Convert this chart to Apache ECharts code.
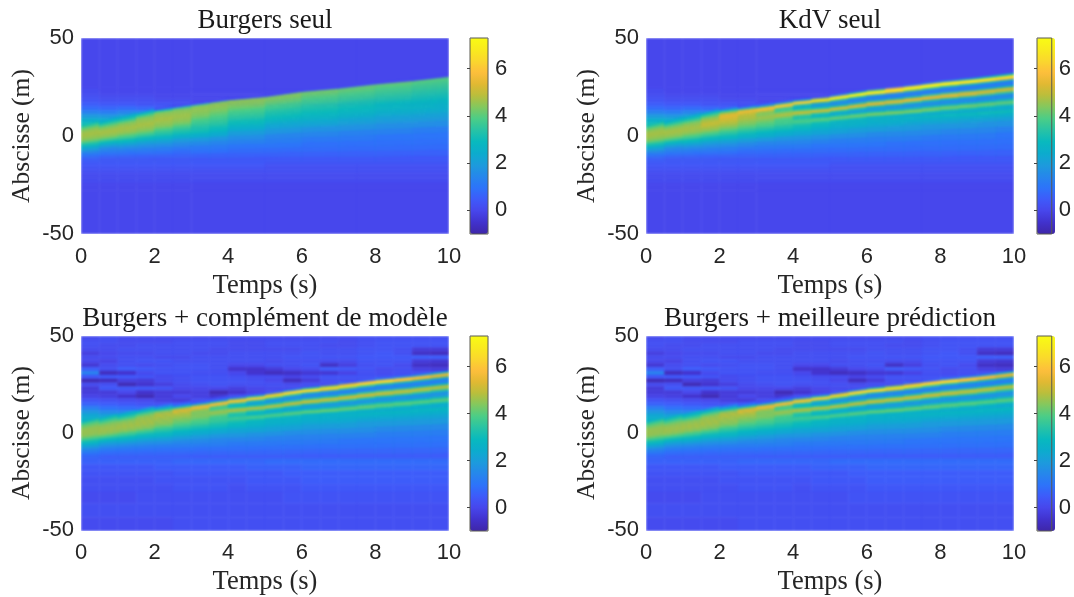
<!DOCTYPE html>
<html><head><meta charset="utf-8">
<style>
html,body{margin:0;padding:0;background:#fff}
#field,#frame{position:absolute;left:0;top:0;width:1074px;height:597px}
#field{filter:blur(1px);clip-path:path("M81 38H449V234H81Z M646 38H1014V234H646Z M81 336H449V531H81Z M646 336H1014V531H646Z")}
</style>
<script src="https://cdn.jsdelivr.net/npm/echarts@6/dist/echarts.min.js"></script>
</head><body><div id="field"></div><div id="frame"></div>
<script>
// Titles and tick labels
const panelTitles = ['Burgers seul', 'KdV seul', 'Burgers + complément de modèle', 'Burgers + meilleure prédiction'];
const xAxisName = 'Temps (s)';
const yAxisName = 'Abscisse (m)';
const colorbarTicks = [0, 2, 4, 6];
const colorMin = -1, colorMax = 7.3;
const parulaStops = ['#3e26a8','#4132cd','#4746eb','#3e5afa','#2d73fa','#2687eb','#1c9bdc','#0cacCd','#08b9be','#28c3a5','#4bcd87','#82c85f','#b9be3c','#e1b932','#fdbe3c','#fad72d','#f9eb1e','#f9fb14'];

// Field values are in tenths. Each inner list is one time column, from high abscissa to low.
// Band rows follow the wave fan: row abscissa u is seen at -13 + (u + 13) * fanStretch(t).
const fanPivot = -13;
const fanTimes = [0,1,2,3,4,5,6,7,8,9,10];
const fanStretch = [0.41,0.51,0.60,0.66,0.72,0.76,0.82,0.86,0.91,0.95,1];
const bandRowEdges = [32,31,30,29,28,27,26,25,24,23,22,21,20,19,18,17,16,15,14,13,12,10,8,5,2,-1,-4,-7,-10,-13];
const fineTimes = [0,0.5,1,1.5,2,2.5,3,3.5,4,4.5,5,5.5,6,6.5,7,7.5,8,8.5,9,9.5,10];
const burgersTimes = [0,0.5,1,1.5,2,2.5,3,3.5,4,5,6,7,8,9,10];
const calmTimes = [0,0.5,1,1.5,2,2.5,3,5,7.5,10];
const calmRowEdges = [50,24,21,19,17,15,13,11,9,7,5,-13,-15,-17,-19,-21,-24,-28,-50];
const rippleRowEdges = [50,48,46,44,42,40,38,36,34,32,30,28,26,24,22,20,18,16,14,12,10,8,-13,-16,-19,-22,-26,-30,-36,-43,-50];

const burgersBand = [
[30,32,35,37,39,41,43,44,45,46,46,47,47,47,47,46,46,45,45,44,41,37,31,24,19,14,10,7,5],
[22,25,27,30,33,36,38,41,43,44,45,46,47,47,47,47,46,45,45,44,40,35,28,21,15,12,9,6,4],
[20,23,27,30,33,36,39,42,44,45,46,46,47,47,47,46,46,45,44,42,39,35,29,22,16,12,9,6,4],
[14,22,29,34,38,41,44,45,45,46,46,47,47,47,46,46,45,44,43,41,38,33,28,21,16,12,9,6,4],
[0,8,28,38,43,45,45,46,46,47,47,46,46,45,45,44,43,41,39,38,35,32,27,21,16,12,9,6,4],
[0,6,34,42,44,45,45,46,46,46,46,45,45,44,43,42,40,38,37,35,33,30,25,19,15,11,8,6,4],
[0,5,38,45,45,45,45,45,44,44,43,42,41,39,38,37,36,35,34,33,32,30,25,19,15,11,9,6,4],
[0,4,42,45,45,45,44,44,43,42,41,40,39,38,37,36,35,34,33,32,30,28,24,18,14,11,9,6,4],
[0,3,44,45,44,44,43,42,41,39,38,37,36,35,34,33,31,30,29,28,26,24,20,16,13,10,8,6,4],
[0,2,43,44,43,42,41,40,38,37,36,34,33,32,31,30,29,28,26,25,23,21,18,14,12,10,8,6,4],
[0,2,42,42,41,40,39,38,37,36,34,33,32,31,30,29,28,27,26,25,23,21,17,14,11,9,8,6,4],
[0,2,41,41,40,39,38,37,36,35,33,32,31,30,29,28,27,26,25,24,22,20,17,13,11,9,8,6,4],
[0,1,41,40,39,38,37,36,35,34,33,32,30,29,28,27,26,25,24,23,21,19,16,13,10,9,8,6,4],
[0,1,40,39,38,37,36,35,34,33,32,31,30,29,28,27,26,25,24,23,21,19,16,12,10,9,8,6,4]
];

const kdvBand = [
[30,32,35,37,39,41,43,44,45,46,46,47,47,47,47,46,46,45,45,44,41,37,31,24,19,14,10,7,5],
[22,25,27,30,33,36,38,41,43,44,45,46,47,47,47,47,46,45,45,44,40,35,28,21,15,12,9,6,4],
[20,23,27,30,33,36,39,42,44,45,46,46,47,47,47,46,46,45,44,42,39,35,29,22,16,12,9,6,4],
[14,22,29,34,38,41,44,46,47,48,49,50,50,49,48,47,46,45,43,41,38,33,28,21,16,12,9,6,4],
[6,14,26,36,44,50,53,54,53,52,51,50,49,48,47,46,44,43,41,39,36,32,28,21,16,12,9,6,4],
[2,4,16,36,52,56,54,51,49,48,48,47,46,45,44,43,42,40,39,37,34,30,26,20,15,11,8,6,4],
[1,3,10,32,54,59,54,47,44,44,45,46,46,44,43,41,40,39,38,36,33,29,25,19,14,11,8,6,4],
[1,2,14,42,63,56,40,35,38,42,46,48,46,42,39,38,38,37,36,34,32,28,24,18,14,11,8,6,4],
[0,3,24,62,62,38,26,26,32,40,49,50,42,34,32,35,38,38,35,32,30,27,23,18,14,11,8,6,4],
[0,4,46,72,52,28,20,20,28,40,52,48,35,27,28,34,40,38,32,29,28,25,22,17,13,10,8,6,4],
[1,16,66,74,40,20,16,18,30,46,54,42,27,22,27,36,42,36,28,26,26,24,21,16,12,10,8,6,4],
[1,24,72,70,32,16,14,18,34,50,54,36,23,20,26,38,43,34,27,26,26,24,20,16,12,10,8,6,4],
[2,40,75,64,24,13,13,22,42,54,50,28,19,19,28,41,43,30,25,26,25,23,20,15,12,10,8,6,4],
[4,58,75,56,20,12,13,26,47,55,44,24,17,19,30,43,42,28,24,26,25,23,19,15,12,9,8,6,4],
[8,66,74,44,18,12,14,32,52,55,38,21,16,20,32,44,40,26,24,27,25,22,19,15,12,9,8,6,4],
[12,70,72,38,16,11,16,38,54,53,32,19,16,22,35,44,37,25,24,28,25,22,18,15,11,9,8,6,4],
[16,71,69,32,14,11,18,42,55,50,28,17,16,24,38,43,34,24,25,29,25,22,18,14,11,9,8,6,4],
[22,70,65,28,13,11,20,46,54,46,24,16,16,26,40,42,31,24,25,29,25,21,18,14,11,9,8,6,4],
[26,69,63,26,12,12,24,48,52,42,22,15,17,28,41,40,29,23,26,30,25,21,17,14,11,9,8,6,4],
[30,68,60,24,12,12,26,49,51,38,20,15,18,30,41,38,27,23,26,30,25,21,17,13,10,9,8,6,4]
];

const complementBand = [
[33,35,37,39,41,42,43,44,45,46,46,46,46,46,46,46,45,45,44,42,39,35,30,24,19,14,11,8,6],
[27,30,32,35,37,39,41,43,44,45,46,46,46,47,47,46,46,45,45,43,39,34,28,21,16,12,9,7,5],
[22,25,28,31,34,37,39,42,44,45,46,46,47,47,47,46,46,45,44,42,38,34,28,22,16,12,9,7,5],
[17,23,28,33,37,40,43,45,46,46,47,47,47,47,47,46,45,45,43,41,37,32,27,21,16,12,9,7,5],
[9,14,22,30,37,43,46,48,48,48,47,47,46,46,45,45,44,42,40,38,35,31,27,21,16,12,9,7,5],
[4,6,12,24,40,50,53,52,50,48,47,46,45,44,43,42,41,39,38,36,33,29,25,20,15,12,9,7,5],
[2,3,7,22,46,56,55,49,45,44,44,44,44,43,42,40,39,38,37,35,32,28,24,19,15,12,9,7,5],
[2,3,8,30,55,59,47,37,37,41,45,46,44,41,38,37,37,36,35,33,31,27,23,18,14,12,9,7,5],
[2,3,16,48,61,52,34,27,30,40,48,47,40,33,32,34,37,36,33,31,29,26,22,18,14,11,9,7,5],
[2,4,32,63,57,34,22,21,28,41,50,44,33,27,28,33,39,36,31,28,27,25,22,17,14,11,9,7,5],
[2,10,52,66,44,23,17,19,30,45,51,40,27,23,27,35,40,34,28,26,26,24,21,17,13,11,9,7,5],
[2,18,61,65,36,18,15,19,34,48,51,35,24,21,26,37,41,33,27,26,26,24,21,16,13,11,9,7,5],
[2,32,66,61,28,14,14,22,41,51,48,28,20,20,28,39,41,30,25,26,25,23,20,16,13,11,9,7,5],
[3,44,67,54,22,13,14,26,45,52,43,25,18,20,30,41,40,28,25,26,25,23,20,16,13,11,9,7,5],
[5,54,66,44,19,12,15,32,49,52,38,22,17,21,32,42,38,27,25,27,25,23,20,16,13,10,9,7,5],
[8,59,65,38,17,12,17,37,51,50,33,20,17,23,35,42,36,26,25,28,25,22,19,16,13,10,9,7,5],
[12,62,63,32,15,12,19,41,52,47,28,18,17,25,37,41,33,25,25,28,25,22,19,15,12,10,9,7,5],
[16,60,58,28,14,12,21,44,51,44,25,17,17,27,39,40,31,24,25,28,25,22,19,15,12,10,9,7,5],
[20,59,53,25,13,12,24,46,50,40,23,16,18,29,40,38,29,24,26,28,25,22,19,15,12,10,9,7,5],
[24,56,49,22,12,13,26,47,48,36,21,16,19,31,41,37,27,23,26,29,25,22,19,15,12,10,9,7,5]
];

// Flat background of the two undisturbed panels
const calmBackdrop = [
[0,1,2,3,5,8,13,19,25,30,40,4,3,2,1,1,0,0],
[0,0,1,2,4,7,12,18,25,30,40,4,3,2,1,1,0,0],
[0,0,1,2,4,8,14,20,30,35,40,4,3,2,1,1,0,0],
[0,0,1,2,3,7,14,30,40,45,40,4,3,2,1,1,0,0],
[0,0,0,1,3,5,40,45,47,45,40,4,3,2,1,1,0,0],
[0,0,0,1,2,5,40,45,47,45,40,4,3,2,1,1,0,0],
[0,0,0,0,0,40,40,40,40,40,30,4,3,2,1,1,0,0],
[0,0,0,0,0,40,40,40,40,40,30,3,2,2,1,1,0,0],
[0,0,0,0,0,40,40,40,40,40,30,3,2,2,1,1,0,0]
];

// Flat background of the two corrected panels, with the ripples above the wave
const rippleBackdrop = [
[1,2,2,1,-2,1,0,-4,5,13,4,-8,1,-3,-3,-1,3,6,12,18,23,26,6,4,3,2,2,1,2,1],
[2,2,1,1,0,1,-1,1,2,-7,4,-7,2,4,-3,-2,2,5,9,15,21,26,6,4,3,2,2,1,2,1],
[1,1,1,2,1,2,2,2,5,-5,4,-2,-8,4,0,-5,1,4,8,14,22,28,6,4,3,2,2,1,2,1],
[1,1,2,2,1,2,3,1,4,1,3,-3,-5,4,-5,-8,0,3,7,14,26,30,6,4,3,2,2,2,2,1],
[1,1,2,2,2,1,3,2,3,3,1,1,-2,3,-3,-3,-2,2,6,15,30,30,6,5,3,3,2,2,2,1],
[1,2,2,2,2,1,2,3,3,3,2,2,1,0,-3,0,-3,2,8,24,40,30,7,5,4,3,3,2,2,2],
[1,2,2,2,1,2,2,3,3,2,3,3,2,0,-2,-2,1,5,26,30,30,30,7,5,4,3,3,2,2,2],
[1,2,2,1,1,2,2,2,2,2,3,3,3,0,-8,-5,1,20,30,30,30,30,7,5,4,3,3,2,2,2],
[1,1,1,1,2,2,2,0,-5,0,2,3,2,-2,-5,0,20,30,30,30,30,30,7,5,4,3,2,2,2,2],
[1,1,1,1,2,2,2,0,-5,-5,1,2,2,0,-2,20,30,30,30,30,30,30,7,6,4,4,3,2,2,2],
[1,2,2,1,2,2,1,2,-3,-7,1,0,2,1,0,20,30,30,30,30,30,30,8,6,4,4,3,2,2,2],
[1,2,2,1,2,3,2,2,0,-6,-1,-7,1,1,20,30,30,30,30,30,30,30,8,6,5,4,3,3,2,2],
[1,2,2,2,3,3,2,3,1,-4,1,-3,2,1,20,30,30,30,30,30,30,30,8,7,5,5,4,3,2,2],
[1,2,1,2,2,3,1,-6,5,-4,3,2,1,20,30,30,30,30,30,30,30,30,8,7,5,5,4,3,2,2],
[1,1,1,2,2,3,1,-2,4,-1,3,2,20,30,30,30,30,30,30,30,30,30,8,7,5,5,4,3,2,2],
[2,2,2,3,3,4,3,2,3,2,3,2,20,30,30,30,30,30,30,30,30,30,8,7,5,5,4,3,2,2],
[2,3,3,3,4,4,3,3,1,1,3,20,30,30,30,30,30,30,30,30,30,30,8,7,5,5,4,3,2,2],
[2,3,3,2,2,4,3,1,2,2,3,20,30,30,30,30,30,30,30,30,30,30,8,7,5,5,4,3,2,2],
[2,3,3,-3,-6,5,-3,-6,-2,2,3,20,30,30,30,30,30,30,30,30,30,30,8,7,5,5,4,3,2,2],
[2,3,3,-3,-7,5,-4,-7,-3,2,3,20,30,30,30,30,30,30,30,30,30,30,8,7,5,5,4,3,2,2]
];

// Which tables feed which panel (the last two panels are indistinguishable at this resolution)
const panelLayers = [
  {back: calmBackdrop, backTimes: calmTimes, backRows: calmRowEdges, band: burgersBand, bandTimes: burgersTimes},
  {back: calmBackdrop, backTimes: calmTimes, backRows: calmRowEdges, band: kdvBand, bandTimes: fineTimes},
  {back: rippleBackdrop, backTimes: fineTimes, backRows: rippleRowEdges, band: complementBand, bandTimes: fineTimes},
  {back: rippleBackdrop, backTimes: fineTimes, backRows: rippleRowEdges, band: complementBand, bandTimes: fineTimes}
];

function cells(table, times, rows) {
  const out = [];
  table.forEach((col, i) => col.forEach((v, j) => out.push([times[i], times[i + 1], rows[j], rows[j + 1], v / 10])));
  return out;
}
function stretchAt(t) {
  const k = Math.min(Math.floor(t), fanTimes.length - 2);
  return fanStretch[k] + (fanStretch[k + 1] - fanStretch[k]) * (t - fanTimes[k]);
}
function quad(fan) {
  return function (params, api) {
    const t0 = api.value(0), t1 = api.value(1), a = api.value(2), b = api.value(3);
    const f = fan ? (t, u) => fanPivot + (u - fanPivot) * stretchAt(t) : (t, u) => u;
    const points = [[t0, f(t0, a)], [t1, f(t1, a)], [t1, f(t1, b)], [t0, f(t0, b)]].map(p => api.coord(p));
    const color = api.visual('color');
    return {type: 'polygon', shape: {points}, style: {fill: color, stroke: color, lineWidth: 0.5}};
  };
}

const plotLefts = [81, 646, 81, 646], plotWidth = 368;
const plotTops = [38, 38, 336, 336], plotHeights = [196, 196, 195, 195];
const barLefts = [470, 1037, 470, 1037], barWidth = 18;
const ink = '#262626';
const sansFont = '"Liberation Sans", Arial, sans-serif', serifFont = '"Liberation Serif", serif';
const tickLabelStyle = {fontFamily: sansFont, fontSize: 22, color: ink, padding: [4, 0, 0, 0]};

// Frame chart: text, axes, colour bars. Field chart: the colour cells, softened like the reference raster.
const frameGrid = [], frameX = [], frameY = [], frameMaps = [], title = [];
const fieldGrid = [], fieldX = [], fieldY = [], fieldSeries = [], fieldMaps = [];
panelLayers.forEach((layer, p) => {
  frameGrid.push({left: plotLefts[p], top: plotTops[p], width: plotWidth, height: plotHeights[p]});
  frameX.push({type: 'value', gridIndex: p * 2, min: 0, max: 10, interval: 2, name: xAxisName, nameLocation: 'middle', nameGap: 39,
    nameTextStyle: {fontFamily: serifFont, fontSize: 26.5, color: ink},
    axisLine: {show: false}, axisTick: {show: false}, splitLine: {show: false},
    axisLabel: Object.assign({margin: 8}, tickLabelStyle)});
  frameY.push({type: 'value', gridIndex: p * 2, min: -50, max: 50, interval: 50, name: yAxisName, nameLocation: 'middle', nameGap: 46,
    nameTextStyle: {fontFamily: serifFont, fontSize: 25.5, color: ink},
    axisLine: {show: false}, axisTick: {show: false}, splitLine: {show: false},
    axisLabel: Object.assign({margin: 7}, tickLabelStyle)});

  frameGrid.push({left: barLefts[p], top: plotTops[p], width: barWidth, height: plotHeights[p], show: true, borderColor: '#5a5a50', borderWidth: 1, backgroundColor: 'transparent', z: 20});
  frameX.push({type: 'value', gridIndex: p * 2 + 1, min: 0, max: 1, show: false});
  frameY.push({type: 'value', gridIndex: p * 2 + 1, min: colorMin, max: colorMax, position: 'right', z: 21,
    axisLine: {show: false}, splitLine: {show: false},
    axisTick: {show: true, inside: true, length: 3, lineStyle: {color: '#444'}, customValues: colorbarTicks},
    axisLabel: Object.assign({margin: 7, customValues: colorbarTicks}, tickLabelStyle)});
  frameMaps.push({type: 'continuous', seriesIndex: [], dimension: 4, min: colorMin, max: colorMax,
    left: barLefts[p], top: plotTops[p], itemWidth: barWidth, itemHeight: plotHeights[p], padding: 0, calculable: false, showLabel: false, text: null,
    hoverLink: false, inRange: {color: parulaStops}});
  title.push({text: panelTitles[p], left: plotLefts[p] + plotWidth / 2 - 5, top: plotTops[p] - 36, textAlign: 'center',
    textStyle: {fontFamily: serifFont, fontWeight: 'normal', fontSize: 27, color: '#1a1a1a'}});

  fieldGrid.push({left: plotLefts[p], top: plotTops[p], width: plotWidth, height: plotHeights[p]});
  fieldX.push({type: 'value', gridIndex: p, min: 0, max: 10, show: false});
  fieldY.push({type: 'value', gridIndex: p, min: -50, max: 50, show: false});
  const first = fieldSeries.length;
  [[layer.back, layer.backTimes, layer.backRows, false], [layer.band, layer.bandTimes, bandRowEdges, true]].forEach(([t, times, rows, fan]) => {
    fieldSeries.push({type: 'custom', coordinateSystem: 'cartesian2d', xAxisIndex: p, yAxisIndex: p, clip: true, silent: true,
      animation: false, progressive: 0, renderItem: quad(fan), encode: {x: [0, 1], y: [2, 3]}, data: cells(t, times, rows)});
  });
  fieldMaps.push({type: 'continuous', show: false, seriesIndex: [first, first + 1], dimension: 4, min: colorMin, max: colorMax, inRange: {color: parulaStops}});
});

echarts.init(document.getElementById('field'), null, {renderer: 'canvas'}).setOption({animation: false, grid: fieldGrid, xAxis: fieldX, yAxis: fieldY, series: fieldSeries, visualMap: fieldMaps});
echarts.init(document.getElementById('frame'), null, {renderer: 'canvas'}).setOption({animation: false, title, grid: frameGrid, xAxis: frameX, yAxis: frameY, visualMap: frameMaps});
</script></body></html>
